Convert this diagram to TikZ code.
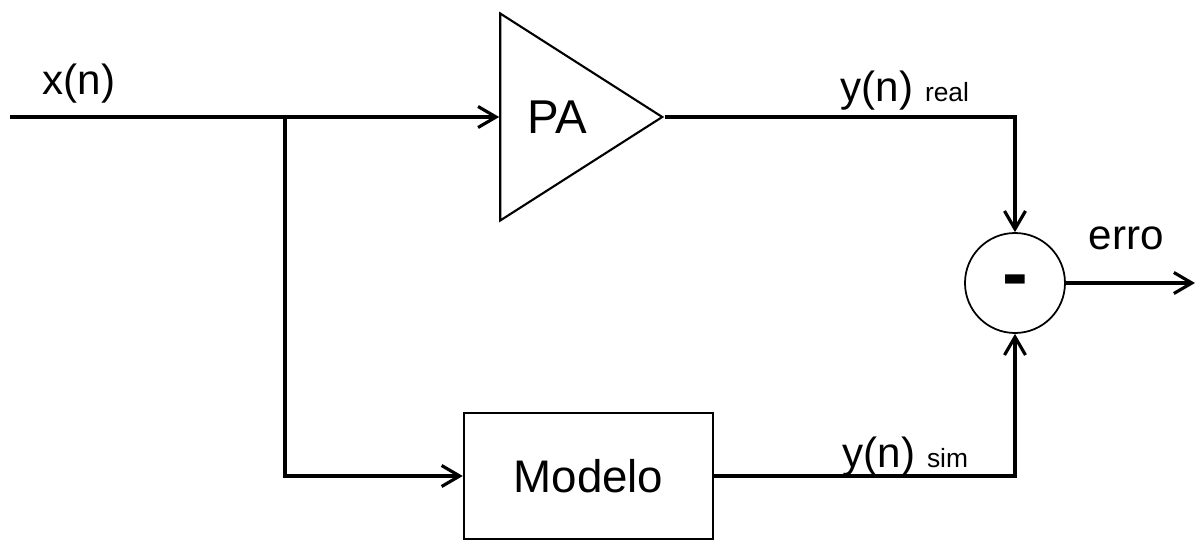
\documentclass[tikz,border=0pt]{standalone}
\usepackage{fontspec}
\setmainfont{Liberation Sans}
\usetikzlibrary{arrows.meta,shapes.geometric}
\newcommand\indice[1]{{\fontsize{7.5}{9}\selectfont #1}}
\tikzset{
	diagrama/.style={font=\fontsize{12}{14}\selectfont, >={Straight Barb[length=1.8mm,width=2.1mm]}},
	bloco/.style={draw, line width=0.7pt, minimum width=2.49cm, minimum height=1.26cm,
	              inner sep=0pt, font=\fontsize{13}{15}\selectfont},
	triangulo/.style={draw, line width=0.6pt, isosceles triangle, isosceles triangle stretches,
	                  minimum width=2.07cm, minimum height=1.62cm, inner sep=0pt,
	                  font=\fontsize{13.5}{15}\selectfont},
	somador/.style={draw, circle, line width=0.5pt, minimum size=1.0cm, inner sep=0pt,
	                font=\fontsize{22}{22}\selectfont\bfseries, text height=0.92em, text depth=0pt},
	fluxo/.style={->, line width=0.9pt},
	rotulo/.style={anchor=base west, inner sep=0pt},
}

\begin{document}
\begin{tikzpicture}[diagrama]
\useasboundingbox (0,0) rectangle (12,-5.4);

\node[triangulo, anchor=apex] (pa) at (6.65,-1.17) {PA};
\node[bloco] (modelo) at (5.885,-4.76) {Modelo};
\node[somador] (sub) at (10.15,-2.83) {-};

\coordinate (entrada) at (0.1,-1.17);
\coordinate (ramo) at (2.85,-1.17);
\coordinate (saida) at (11.95,-2.83);

\draw[fluxo] (entrada) -- (pa.lower side);
\draw[fluxo] (ramo) |- (modelo.west);
\draw[fluxo] (pa.apex) -| (sub.north);
\draw[fluxo] (modelo.east) -| (sub.south);
\draw[fluxo] (sub.east) -- (saida);

\node[rotulo] at (0.42,-0.95) {x(n)};
\node[rotulo] at (8.40,-1.02) {y(n) \indice{real}};
\node[rotulo] at (10.88,-2.50) {erro};
\node[rotulo] at (8.42,-4.67) {y(n) \indice{sim}};

\end{tikzpicture}
\end{document}
